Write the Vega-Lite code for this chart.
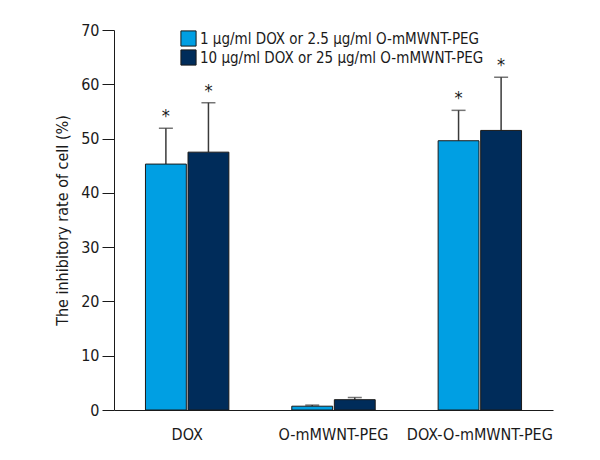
{
  "$schema": "https://vega.github.io/schema/vega-lite/v6.json",
  "width": 439,
  "height": 380,
  "autosize": {"type": "none"},
  "padding": {"left": 114, "top": 30, "right": 47, "bottom": 50},
  "config": {
    "font": "DejaVu Sans Condensed, Roboto, sans-serif",
    "view": {"stroke": null},
    "axis": {"labelFont": "DejaVu Sans Condensed, Roboto, sans-serif", "titleFont": "DejaVu Sans Condensed, Roboto, sans-serif", "labelColor": "#1a1a1a", "titleColor": "#1a1a1a", "domainColor": "#1a1a1a", "tickColor": "#1a1a1a", "grid": false, "labelFontSize": 16, "titleFontSize": 16, "titleFontWeight": "normal"},
    "legend": {"labelFont": "DejaVu Sans Condensed, Roboto, sans-serif", "labelFontSize": 15, "labelColor": "#1a1a1a", "labelLimit": 0}
  },
  "data": {
    "values": [
      {"group": "DOX", "series": "1 µg/ml DOX or 2.5 µg/ml O-mMWNT-PEG", "value": 45.3, "upper": 51.9, "star": "*"},
      {"group": "DOX", "series": "10 µg/ml DOX or 25 µg/ml O-mMWNT-PEG", "value": 47.5, "upper": 56.6, "star": "*"},
      {"group": "O-mMWNT-PEG", "series": "1 µg/ml DOX or 2.5 µg/ml O-mMWNT-PEG", "value": 0.7, "upper": 0.9, "star": ""},
      {"group": "O-mMWNT-PEG", "series": "10 µg/ml DOX or 25 µg/ml O-mMWNT-PEG", "value": 1.9, "upper": 2.3, "star": ""},
      {"group": "DOX-O-mMWNT-PEG", "series": "1 µg/ml DOX or 2.5 µg/ml O-mMWNT-PEG", "value": 49.6, "upper": 55.2, "star": "*"},
      {"group": "DOX-O-mMWNT-PEG", "series": "10 µg/ml DOX or 25 µg/ml O-mMWNT-PEG", "value": 51.5, "upper": 61.3, "star": "*"}
    ]
  },
  "encoding": {
    "x": {"field": "group", "type": "nominal", "sort": ["DOX", "O-mMWNT-PEG", "DOX-O-mMWNT-PEG"], "scale": {"paddingInner": 0.43, "paddingOuter": 0.215}, "axis": {"title": null, "labelAngle": 0, "ticks": false, "labelPadding": 16}},
    "xOffset": {"field": "series", "type": "nominal", "scale": {"paddingInner": 0.04}}
  },
  "layer": [
    {
      "mark": {"type": "rule", "color": "#3a3a3a", "strokeWidth": 1.5},
      "encoding": {"y": {"field": "value", "type": "quantitative"}, "y2": {"field": "upper"}}
    },
    {
      "mark": {"type": "tick", "color": "#3a3a3a", "thickness": 1.5, "size": 14, "orient": "horizontal"},
      "encoding": {"y": {"field": "upper", "type": "quantitative"}}
    },
    {
      "mark": {"type": "bar", "stroke": "#1a1a1a", "strokeWidth": 1},
      "encoding": {
        "y": {"field": "value", "type": "quantitative", "scale": {"domain": [0, 70]}, "axis": {"title": "The inhibitory rate of cell (%)", "values": [0, 10, 20, 30, 40, 50, 60, 70], "tickSize": 12, "labelPadding": 3, "titlePadding": 10}},
        "color": {"field": "series", "type": "nominal", "scale": {"range": ["#009fe3", "#002c5a"]}, "legend": {"title": null, "orient": "none", "legendX": 66, "legendY": 0, "symbolType": "square", "symbolSize": 230, "symbolStrokeColor": "#1a1a1a", "symbolStrokeWidth": 1, "rowPadding": -3, "labelOffset": 3}}
      }
    },
    {
      "mark": {"type": "text", "dy": -11, "fontSize": 18, "color": "#1a1a1a", "baseline": "middle", "font": "DejaVu Sans Condensed, Roboto, sans-serif"},
      "encoding": {"y": {"field": "upper", "type": "quantitative"}, "text": {"field": "star"}}
    }
  ]
}
